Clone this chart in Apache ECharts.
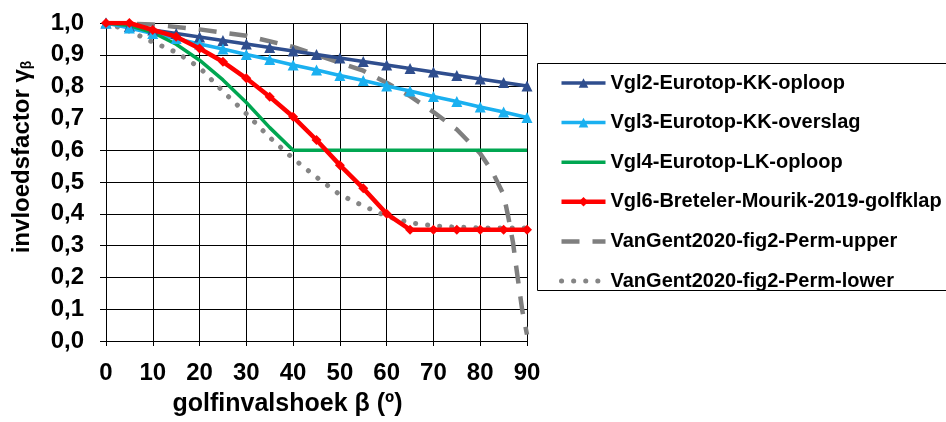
<!DOCTYPE html>
<html>
<head>
<meta charset="utf-8">
<script src="https://cdn.jsdelivr.net/npm/echarts@6/dist/echarts.min.js"></script>
<style>
    html, body { margin: 0; padding: 0; background: #fff; }
    #chart { width: 946px; height: 422px; }
</style>
</head>
<body>
<div id="chart"></div>
<script>
    // hoeken (graden) en invloedsfactoren
    const angles = [0, 5, 10, 15, 20, 25, 30, 35, 40, 45, 50, 55, 60, 65, 70, 75, 80, 85, 90];
    const vgl2 = [1.000, 0.989, 0.978, 0.967, 0.956, 0.945, 0.934, 0.923, 0.912, 0.901, 0.890, 0.879, 0.868, 0.857, 0.846, 0.835, 0.824, 0.813, 0.802];
    const vgl3 = [1.000, 0.984, 0.967, 0.951, 0.934, 0.918, 0.901, 0.885, 0.868, 0.852, 0.835, 0.819, 0.802, 0.786, 0.769, 0.753, 0.736, 0.720, 0.703];
    const vgl4 = [1.000, 0.992, 0.970, 0.933, 0.883, 0.821, 0.750, 0.671, 0.600, 0.600, 0.600, 0.600, 0.600, 0.600, 0.600, 0.600, 0.600, 0.600, 0.600];
    const vgl6 = [1.000, 1.000, 0.978, 0.957, 0.920, 0.878, 0.826, 0.768, 0.705, 0.632, 0.553, 0.480, 0.400, 0.350, 0.350, 0.350, 0.350, 0.350, 0.350];

    const upperAngles = [0, 10, 20, 30, 40, 45, 50, 55, 60, 65, 70, 75, 80, 82.5, 85, 86, 87, 88, 89, 90];
    const upper = [1.000, 0.995, 0.980, 0.960, 0.925, 0.900, 0.875, 0.850, 0.812, 0.770, 0.720, 0.665, 0.590, 0.535, 0.460, 0.390, 0.310, 0.200, 0.095, 0.020];

    const lowerAngles = [0, 5, 10, 15, 20, 25, 30, 35, 40, 45, 50, 55, 60, 65, 70, 75, 80, 85, 90];
    const lower = [1.000, 0.975, 0.940, 0.908, 0.860, 0.785, 0.715, 0.640, 0.574, 0.515, 0.460, 0.425, 0.392, 0.372, 0.362, 0.358, 0.356, 0.355, 0.355];

    const names = [
        'Vgl2-Eurotop-KK-oploop',
        'Vgl3-Eurotop-KK-overslag',
        'Vgl4-Eurotop-LK-oploop',
        'Vgl6-Breteler-Mourik-2019-golfklap',
        'VanGent2020-fig2-Perm-upper',
        'VanGent2020-fig2-Perm-lower'
    ];

    function pairs(xs, ys) {
        return xs.map(function (x, i) { return [x, ys[i]]; });
    }

    const chart = echarts.init(document.getElementById('chart'));
    const font = 'Arial, "Liberation Sans", sans-serif';
    const noSymbol = { opacity: 0 };

    chart.setOption({
        animation: false,
        grid: { left: 106, right: 419, top: 23, bottom: 81 },
        graphic: [{
            type: 'rect',
            shape: { x: 537.5, y: 63.5, width: 430, height: 227 },
            style: { fill: null, stroke: '#000', lineWidth: 1 }
        }],
        legend: {
            orient: 'vertical',
            left: 559,
            top: 73,
            padding: 0,
            itemWidth: 44,
            itemHeight: 12,
            itemGap: 19.6,
            data: [
                { name: names[0], lineStyle: { width: 3.5 } },
                { name: names[1], lineStyle: { width: 3.5 } },
                { name: names[2], itemStyle: noSymbol, lineStyle: { width: 3.5 } },
                { name: names[3], lineStyle: { width: 4.5 } },
                { name: names[4], itemStyle: noSymbol, lineStyle: { width: 4.5 } },
                { name: names[5], itemStyle: noSymbol, lineStyle: { width: 5 } }
            ],
            textStyle: { fontFamily: font, fontWeight: 'bold', fontSize: 20, color: '#000' }
        },
        xAxis: {
            type: 'value',
            min: 0, max: 90, interval: 10,
            name: 'golfinvalshoek β (º)',
            nameLocation: 'middle',
            nameGap: 51,
            nameTextStyle: { fontFamily: font, fontWeight: 'bold', fontSize: 25, color: '#000', padding: [0, 58, 0, 0] },
            axisLine: { lineStyle: { color: '#000', width: 1 } },
            axisTick: { show: true, length: 5, lineStyle: { color: '#000' } },
            axisLabel: { margin: 20, fontFamily: font, fontWeight: 'bold', fontSize: 24, color: '#000' },
            splitLine: { show: true, lineStyle: { color: '#000', width: 1 } }
        },
        yAxis: {
            type: 'value',
            min: 0, max: 1, interval: 0.1,
            name: 'invloedsfactor γ{s|β}',
            nameLocation: 'middle',
            nameGap: 72,
            nameTextStyle: {
                fontFamily: font, fontWeight: 'bold', fontSize: 24, color: '#000',
                padding: [0, 0, 0, 50],
                rich: { s: { fontFamily: font, fontSize: 14, color: '#000', padding: [10, 0, 0, 0] } }
            },
            axisLine: { show: true, lineStyle: { color: '#000', width: 1 } },
            axisTick: { show: true, length: 6, lineStyle: { color: '#000' } },
            axisLabel: {
                margin: 22, fontFamily: font, fontWeight: 'bold', fontSize: 24, color: '#000',
                formatter: function (v) { return v.toFixed(1).replace('.', ','); }
            },
            splitLine: { show: true, lineStyle: { color: '#000', width: 1 } }
        },
        series: [
            {
                name: names[0], type: 'line', data: pairs(angles, vgl2),
                symbol: 'triangle', symbolSize: 11, z: 3,
                lineStyle: { color: '#2F4E8E', width: 3.5 },
                itemStyle: { color: '#2F4E8E' }
            },
            {
                name: names[1], type: 'line', data: pairs(angles, vgl3),
                symbol: 'triangle', symbolSize: 11, z: 3,
                lineStyle: { color: '#1AB0F0', width: 3.5 },
                itemStyle: { color: '#1AB0F0' }
            },
            {
                name: names[2], type: 'line', data: pairs(angles, vgl4),
                symbol: 'none', z: 3,
                lineStyle: { color: '#00A651', width: 3.5 },
                itemStyle: { color: '#00A651' }
            },
            {
                name: names[3], type: 'line', data: pairs(angles, vgl6),
                symbol: 'diamond', symbolSize: 10, z: 4,
                lineStyle: { color: '#FF0000', width: 4.5 },
                itemStyle: { color: '#FF0000' }
            },
            {
                name: names[4], type: 'line', data: pairs(upperAngles, upper),
                symbol: 'none', z: 2,
                lineStyle: { color: '#7F7F7F', width: 4.5, type: [18, 13] },
                itemStyle: { color: '#7F7F7F' }
            },
            {
                name: names[5], type: 'line', data: pairs(lowerAngles, lower),
                symbol: 'none', z: 2,
                lineStyle: { color: '#858585', width: 5, type: [0.1, 12], cap: 'round' },
                itemStyle: { color: '#858585' }
            }
        ]
    });
</script>
</body>
</html>
